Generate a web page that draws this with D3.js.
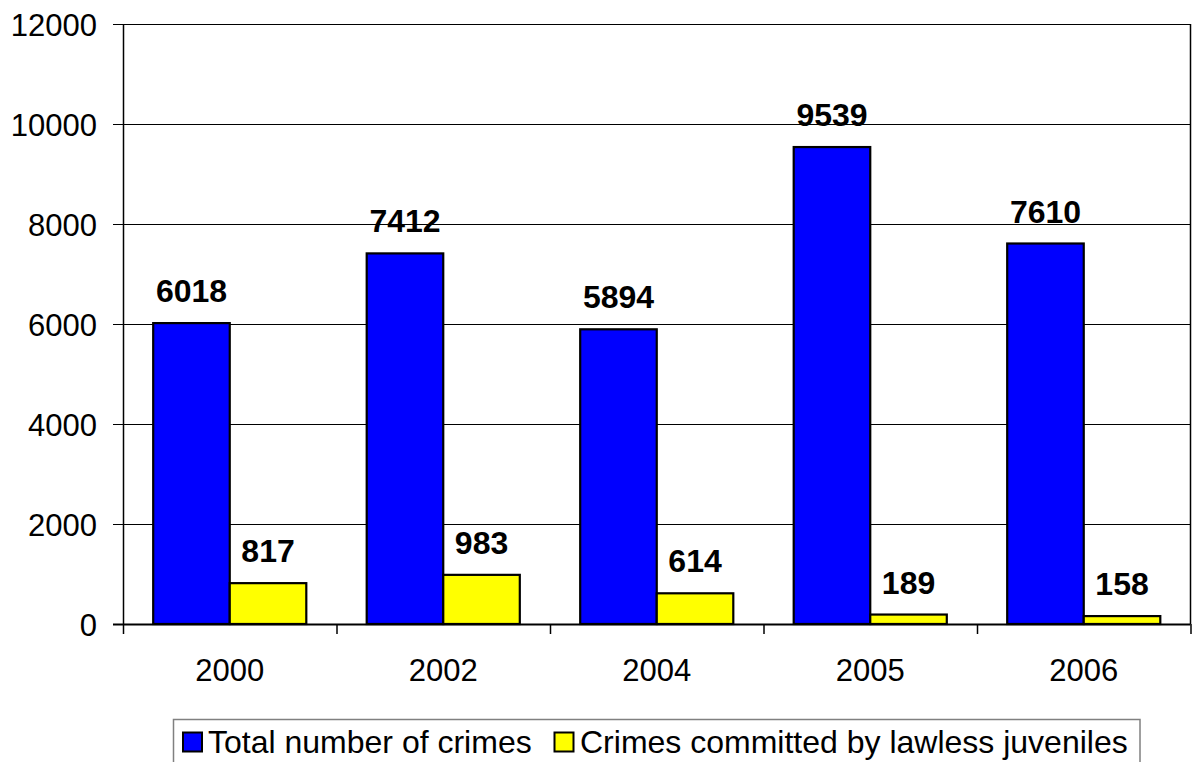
<!DOCTYPE html>
<html>
<head>
<meta charset="utf-8">
<script src="https://cdn.jsdelivr.net/npm/d3@7"></script>
<style>
  html, body { margin: 0; padding: 0; background: #fff; }
  svg { display: block; font-family: Arial, "Liberation Sans", sans-serif; }
</style>
</head>
<body>
<svg id="chart" width="1195" height="762"></svg>
<script>
// Crime statistics by year
const years = ["2000", "2002", "2004", "2005", "2006"];
const totalCrimes = [6018, 7412, 5894, 9539, 7610];
const juvenileCrimes = [817, 983, 614, 189, 158];
const seriesNames = ["Total number of crimes", "Crimes committed by lawless juveniles"];
const seriesColors = ["#0000ff", "#ffff00"];
const yTicks = [0, 2000, 4000, 6000, 8000, 10000, 12000];

const svg = d3.select("#chart");
const plot = { left: 123, top: 24, right: 1190.5, bottom: 624 };

const x = d3.scaleBand()
  .domain(years)
  .range([plot.left, plot.right])
  .paddingInner(0)
  .paddingOuter(0);

const y = d3.scaleLinear()
  .domain([0, 12000])
  .range([plot.bottom, plot.top]);

const groupPad = 30.2;
const xs = d3.scaleBand()
  .domain(d3.range(seriesNames.length))
  .range([groupPad, x.bandwidth() - groupPad])
  .padding(0);

// Gridlines
svg.append("g")
  .selectAll("line")
  .data(yTicks.filter(d => d > 0))
  .join("line")
  .attr("x1", plot.left)
  .attr("x2", plot.right)
  .attr("y1", d => y(d) + 0.5)
  .attr("y2", d => y(d) + 0.5)
  .attr("stroke", "#000")
  .attr("stroke-width", 1);

// Right border of plot area
svg.append("line")
  .attr("x1", plot.right).attr("x2", plot.right)
  .attr("y1", plot.top).attr("y2", plot.bottom)
  .attr("stroke", "#000").attr("stroke-width", 1.5);

// Bars
const table = years.map((yr, i) => ({ year: yr, values: [totalCrimes[i], juvenileCrimes[i]] }));

const groups = svg.append("g")
  .selectAll("g")
  .data(table)
  .join("g")
  .attr("transform", d => `translate(${x(d.year)},0)`);

groups.selectAll("rect")
  .data(d => d.values.map((v, k) => ({ k, v })))
  .join("rect")
  .attr("x", d => xs(d.k))
  .attr("width", xs.bandwidth())
  .attr("y", d => y(d.v))
  .attr("height", d => y(0) - y(d.v))
  .attr("fill", d => seriesColors[d.k])
  .attr("stroke", "#000")
  .attr("stroke-width", 2.2);

groups.selectAll("text")
  .data(d => d.values.map((v, k) => ({ k, v })))
  .join("text")
  .attr("x", d => xs(d.k) + xs.bandwidth() / 2)
  .attr("y", d => y(d.v) - 21)
  .attr("text-anchor", "middle")
  .attr("font-weight", "bold")
  .attr("font-size", 32)
  .attr("fill", "#000")
  .text(d => d.v);

// Y axis
const yAxis = svg.append("g")
  .attr("transform", `translate(${plot.left},0)`)
  .call(d3.axisLeft(y).tickValues(yTicks).tickSize(10).tickPadding(16).tickFormat(d3.format("d")));
yAxis.select(".domain").attr("stroke", "#000").attr("stroke-width", 1.5).attr("d", `M0.5,${plot.top}V${plot.bottom}`);
yAxis.selectAll(".tick line").attr("stroke", "#000").attr("stroke-width", 1);
yAxis.selectAll(".tick text")
  .attr("font-size", 31)
  .attr("font-family", "Arial, 'Liberation Sans', sans-serif")
  .attr("fill", "#000")
  .attr("dy", "0.36em");

// X axis
const xAxis = svg.append("g")
  .attr("transform", `translate(0,${plot.bottom})`)
  .call(d3.axisBottom(x).tickSize(0).tickPadding(0));
xAxis.select(".domain").attr("stroke", "#000").attr("stroke-width", 2).attr("d", `M${plot.left - 10},0.5H${plot.right}`);
xAxis.selectAll(".tick text")
  .attr("font-size", 31)
  .attr("font-family", "Arial, 'Liberation Sans', sans-serif")
  .attr("fill", "#000")
  .attr("y", 57)
  .attr("dy", 0);

// Category separator ticks
const boundaries = years.map(d => x(d)).concat([plot.right]);
svg.append("g")
  .selectAll("line")
  .data(boundaries)
  .join("line")
  .attr("x1", d => d + 0.5).attr("x2", d => d + 0.5)
  .attr("y1", plot.bottom).attr("y2", plot.bottom + 10)
  .attr("stroke", "#000").attr("stroke-width", 1.5);

// Legend
const legend = svg.append("g");
legend.append("rect")
  .attr("x", 173.5).attr("y", 719.5)
  .attr("width", 1140 - 173.5).attr("height", 80)
  .attr("fill", "#fff")
  .attr("stroke", "#808080").attr("stroke-width", 1.5);

const legendItems = [
  { name: seriesNames[0], color: seriesColors[0], sx: 183, tx: 208 },
  { name: seriesNames[1], color: seriesColors[1], sx: 554.5, tx: 580 }
];
legendItems.forEach(it => {
  legend.append("rect")
    .attr("x", it.sx).attr("y", 732.5)
    .attr("width", 19).attr("height", 19)
    .attr("fill", it.color)
    .attr("stroke", "#000").attr("stroke-width", 2);
  legend.append("text")
    .attr("x", it.tx).attr("y", 753)
    .attr("font-size", 32)
    .attr("fill", "#000")
    .text(it.name);
});
</script>
</body>
</html>
